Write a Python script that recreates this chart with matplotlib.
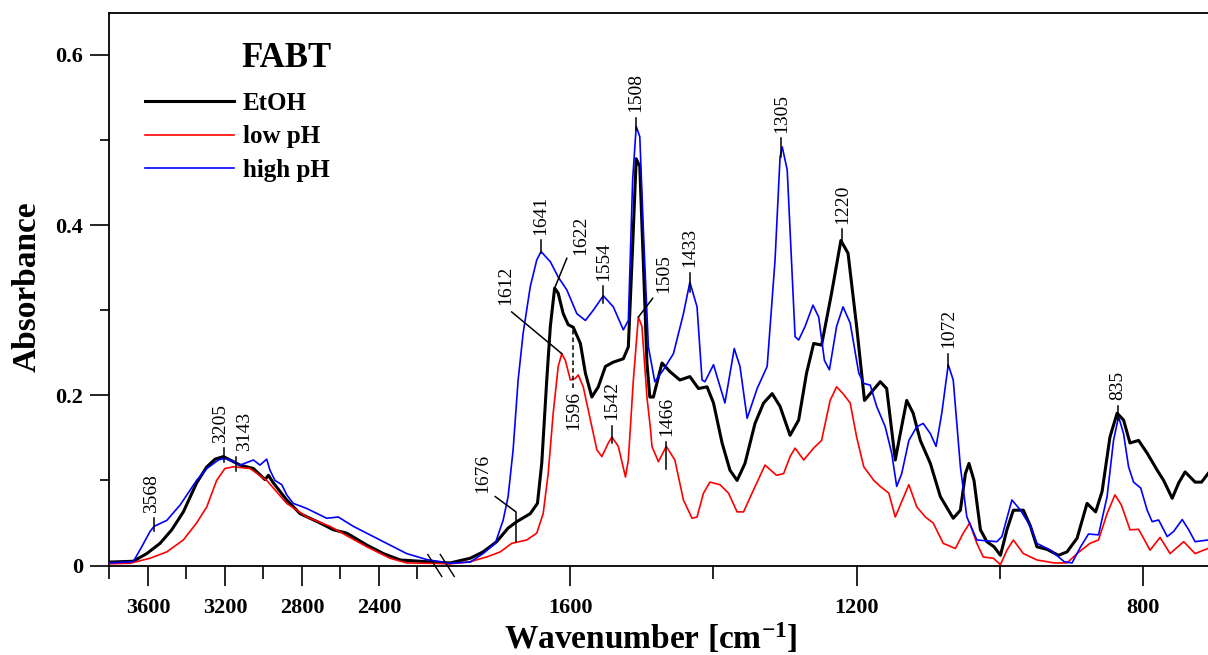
import numpy as np
import matplotlib
matplotlib.use("Agg")
import matplotlib.pyplot as plt
from matplotlib.lines import Line2D

plt.rcParams['font.family'] = ['Liberation Serif', 'DejaVu Serif']
plt.rcParams['mathtext.fontset'] = 'custom'
plt.rcParams['mathtext.rm'] = 'Liberation Serif:bold'
plt.rcParams['mathtext.default'] = 'rm'

# --- spectra (wavenumber cm-1, absorbance) ---
etoh_wn = [3800, 3676, 3606, 3537, 3476, 3416, 3347, 3294, 3251, 3208, 3173, 3121,
           3052, 2992, 2974, 2948, 2879, 2810, 2706, 2637, 2567, 2463, 2377, 2290, 2117,
           1768, 1740, 1722, 1703, 1687, 1675, 1656, 1646, 1640, 1633, 1628, 1622, 1617,
           1610, 1603, 1596, 1586, 1579, 1570, 1561, 1551, 1540, 1526, 1519, 1513, 1508,
           1503, 1498, 1493, 1489, 1484, 1472, 1461, 1447, 1433, 1421, 1409, 1400, 1388,
           1377, 1367, 1356, 1342, 1330, 1318, 1307, 1293, 1281, 1270, 1260, 1249, 1235,
           1222, 1212, 1200, 1189, 1181, 1167, 1158, 1146, 1139, 1130, 1121, 1111, 1097,
           1083, 1065, 1055, 1048, 1043, 1036, 1027, 1018, 1008, 999, 990, 981, 967, 957,
           948, 934, 918, 906, 892, 878, 866, 857, 846, 836, 827, 818, 806, 794, 780, 771,
           759, 750, 741, 727, 718, 709]
etoh_abs = [0.004, 0.005, 0.014, 0.026, 0.042, 0.063, 0.097, 0.116, 0.125, 0.128, 0.124, 0.118,
            0.114, 0.101, 0.106, 0.097, 0.077, 0.061, 0.050, 0.042, 0.038, 0.024, 0.014, 0.0065, 0.004,
            0.003, 0.0085, 0.016, 0.028, 0.044, 0.0515, 0.061, 0.073, 0.120, 0.218, 0.281, 0.326, 0.320,
            0.296, 0.283, 0.280, 0.261, 0.226, 0.198, 0.210, 0.234, 0.239, 0.243, 0.257, 0.375, 0.478,
            0.469, 0.355, 0.238, 0.198, 0.198, 0.238, 0.228, 0.218, 0.222, 0.208, 0.210, 0.191, 0.144,
            0.112, 0.100, 0.120, 0.167, 0.191, 0.202, 0.187, 0.153, 0.171, 0.226, 0.261, 0.259, 0.320,
            0.382, 0.367, 0.281, 0.194, 0.202, 0.216, 0.208, 0.124, 0.155, 0.194, 0.179, 0.147, 0.120,
            0.081, 0.0555, 0.065, 0.108, 0.120, 0.100, 0.042, 0.028, 0.022, 0.012, 0.042, 0.065, 0.065, 0.046,
            0.022, 0.019, 0.012, 0.016, 0.032, 0.073, 0.063, 0.087, 0.151, 0.179, 0.171, 0.144, 0.147, 0.132,
            0.112, 0.100, 0.079, 0.097, 0.110, 0.098, 0.098, 0.108]

low_wn = [3800, 3693, 3589, 3502, 3416, 3347, 3294, 3243, 3200, 3156, 3070, 2983, 2879,
          2775, 2654, 2559, 2463, 2342, 2256, 2117,
          1768, 1740, 1717, 1698, 1682, 1661, 1647, 1638, 1631, 1624, 1617, 1612, 1607, 1600,
          1593, 1589, 1582, 1572, 1563, 1556, 1547, 1542, 1533, 1523, 1519, 1512, 1505, 1500,
          1493, 1488, 1486, 1477, 1466, 1454, 1442, 1430, 1423, 1414, 1405, 1391, 1379, 1367,
          1358, 1344, 1328, 1312, 1302, 1293, 1286, 1274, 1260, 1249, 1237, 1228, 1219, 1209,
          1200, 1190, 1176, 1167, 1155, 1146, 1127, 1116, 1104, 1093, 1079, 1062, 1051, 1042,
          1032, 1023, 1009, 999, 990, 981, 967, 948, 924, 906, 892, 874, 862, 850, 839, 830,
          818, 806, 799, 790, 776, 762, 743, 727, 709]
low_abs = [0.002, 0.0026, 0.0085, 0.016, 0.030, 0.050, 0.069, 0.100, 0.114, 0.116, 0.114, 0.100, 0.073,
           0.057, 0.046, 0.034, 0.022, 0.0085, 0.003, 0.0025,
           0.002, 0.0045, 0.010, 0.016, 0.026, 0.030, 0.038, 0.061, 0.108, 0.179, 0.234, 0.249, 0.241, 0.218,
           0.220, 0.224, 0.210, 0.171, 0.136, 0.128, 0.144, 0.151, 0.140, 0.104, 0.124, 0.218, 0.292, 0.281,
           0.198, 0.160, 0.140, 0.122, 0.140, 0.124, 0.077, 0.0555, 0.057, 0.085, 0.098, 0.095, 0.085, 0.063,
           0.063, 0.089, 0.118, 0.106, 0.108, 0.128, 0.138, 0.124, 0.138, 0.147, 0.194, 0.210, 0.202, 0.191,
           0.151, 0.116, 0.100, 0.093, 0.085, 0.057, 0.095, 0.069, 0.057, 0.050, 0.026, 0.020, 0.038, 0.050,
           0.026, 0.010, 0.0085, 0.001, 0.018, 0.030, 0.014, 0.0065, 0.003, 0.003, 0.014, 0.026, 0.030, 0.061,
           0.083, 0.071, 0.042, 0.0425, 0.032, 0.018, 0.033, 0.014, 0.028, 0.014, 0.020]

high_wn = [3800, 3676, 3632, 3589, 3568, 3502, 3433, 3347, 3294, 3234, 3200, 3156, 3121,
           3087, 3052, 3018, 2983, 2966, 2940, 2905, 2879, 2845, 2775, 2671, 2611, 2533, 2429,
           2359, 2256, 2152,
           1768, 1740, 1722, 1705, 1694, 1687, 1680, 1673, 1666, 1656, 1647, 1641, 1628, 1617,
           1605, 1591, 1579, 1568, 1554, 1540, 1526, 1519, 1513, 1508, 1503, 1498, 1491, 1482,
           1470, 1456, 1442, 1433, 1423, 1416, 1412, 1400, 1384, 1371, 1363, 1353, 1339, 1325,
           1314, 1307, 1304, 1297, 1286, 1281, 1272, 1261, 1253, 1245, 1238, 1228, 1219, 1209,
           1197, 1190, 1181, 1172, 1160, 1151, 1144, 1137, 1127, 1116, 1107, 1097, 1089, 1081,
           1072, 1065, 1055, 1046, 1032, 1004, 997, 983, 971, 957, 948, 929, 910, 899, 887, 876,
           862, 850, 841, 834, 827, 820, 813, 803, 794, 787, 778, 766, 757, 745, 736, 727, 709]
high_abs = [0.003, 0.0045, 0.022, 0.040, 0.046, 0.053, 0.071, 0.100, 0.114, 0.124, 0.126, 0.122, 0.118,
            0.121, 0.124, 0.118, 0.125, 0.112, 0.100, 0.095, 0.083, 0.073, 0.067, 0.0555, 0.057, 0.046, 0.034,
            0.026, 0.014, 0.007,
            0.0026, 0.004, 0.014, 0.026, 0.053, 0.081, 0.136, 0.218, 0.273, 0.328, 0.359, 0.369, 0.357, 0.339,
            0.324, 0.296, 0.288, 0.300, 0.317, 0.304, 0.277, 0.288, 0.453, 0.516, 0.504, 0.394, 0.257, 0.216,
            0.230, 0.249, 0.296, 0.333, 0.304, 0.218, 0.216, 0.236, 0.191, 0.255, 0.234, 0.173, 0.208, 0.234,
            0.359, 0.480, 0.492, 0.465, 0.269, 0.265, 0.281, 0.306, 0.292, 0.241, 0.230, 0.281, 0.304, 0.285,
            0.226, 0.214, 0.212, 0.187, 0.163, 0.132, 0.093, 0.108, 0.147, 0.163, 0.167, 0.155, 0.140, 0.179,
            0.236, 0.218, 0.116, 0.057, 0.030, 0.028, 0.034, 0.077, 0.065, 0.046, 0.026, 0.018, 0.0045, 0.003,
            0.022, 0.037, 0.036, 0.081, 0.147, 0.175, 0.155, 0.116, 0.098, 0.091, 0.065, 0.0515, 0.0535, 0.034,
            0.040, 0.054, 0.042, 0.028, 0.030]

# peak labels: (label, wavenumber, tick bottom, tick top)
peak_ticks = [("3568", 3568, 0.040, 0.0555), ("3205", 3205, 0.122, 0.138),
              ("3143", 3143, 0.111, 0.1275), ("1641", 1641, 0.367, 0.382),
              ("1554", 1554, 0.308, 0.328), ("1542", 1542, 0.1436, 0.1645),
              ("1508", 1508, 0.512, 0.526), ("1466", 1466, 0.114, 0.1455),
              ("1433", 1433, 0.322, 0.344), ("1305", 1305, 0.480, 0.502),
              ("1220", 1220, 0.380, 0.395), ("1072", 1072, 0.2336, 0.249),
              ("835", 835, 0.171, 0.1874)]
# sideways nudge (points) for crowded labels
label_dx = {"3568": -1.5, "3205": -2.5, "3143": 6.0}
# labels with an angled leader: (label, leader path, text anchor)
peak_leaders = [("1676", [(1676, 0.028), (1676, 0.063), (1705, 0.081)], (1723, 0.085)),
                ("1622", [(1622, 0.326), (1605, 0.361)], (1586, 0.365)),
                ("1612", [(1612, 0.249), (1682, 0.298)], (1691, 0.306)),
                ("1505", [(1505, 0.292), (1485, 0.314)], (1469, 0.320))]

# --- broken wavenumber axis: 3800-2110 compressed, 1772-709 expanded ---
W0, B1, B2 = 3800.0, 2110.0, 1772.0
K1, K2, GAP = 0.1925, 0.7155, 12.5
P1 = (W0 - B1) * K1


def _pos(w):
    w = np.asarray(w, dtype=float)
    return np.where(w >= B1, (W0 - w) * K1,
                    np.where(w >= B2, P1 + (B1 - w) / (B1 - B2) * GAP,
                             P1 + GAP + (B2 - w) * K2))


def fwd(w):
    return -_pos(w)


def inv(u):
    p = -np.asarray(u, dtype=float)
    return np.where(p <= P1, W0 - p / K1,
                    np.where(p <= P1 + GAP, B1 - (p - P1) / GAP * (B1 - B2),
                             B2 - (p - P1 - GAP) / K2))


fig = plt.figure(figsize=(12.08, 6.55), dpi=100)
ax = fig.add_axes([0.09056, 0.13664, 0.90944, 0.84305])
ax.set_xscale('function', functions=(fwd, inv))

l1, = ax.plot(etoh_wn, etoh_abs, color='black', lw=2.2, solid_joinstyle='round', zorder=3)
l2, = ax.plot(low_wn, low_abs, color='#ff0000', lw=1.2, solid_joinstyle='round', zorder=3)
l3, = ax.plot(high_wn, high_abs, color='#0000ff', lw=1.2, solid_joinstyle='round', zorder=3)

ax.set_xlim(3800, 709)
ax.set_ylim(0, 0.649)

ax.set_xticks([3600, 3200, 2800, 2400, 1600, 1200, 800])
ax.set_xticklabels(['3600', '3200', '2800', '2400', '1600', '1200', '800'], fontweight='bold')
ax.set_xticks([3800, 3400, 3000, 2600, 2200, 1400, 1000], minor=True)
ax.set_yticks([0, 0.2, 0.4, 0.6])
ax.set_yticklabels(['0', '0.2', '0.4', '0.6'], fontweight='bold')
ax.set_yticks([0.1, 0.3, 0.5], minor=True)

ax.tick_params(axis='both', which='both', direction='out', width=1.2, labelsize=16)
ax.tick_params(axis='x', which='major', length=14.5, pad=9)
ax.tick_params(axis='x', which='minor', length=9)
ax.tick_params(axis='y', which='major', length=14, pad=5)
ax.tick_params(axis='y', which='minor', length=6.7)
ax.spines['right'].set_visible(False)
for s in ('left', 'bottom', 'top'):
    ax.spines[s].set_linewidth(1.3)

# peak labels
for lab, wn, lo, hi in peak_ticks:
    ax.plot([wn, wn], [lo, hi], color='black', lw=1.1, zorder=4)
    ax.annotate(lab, xy=(wn, hi), xytext=(label_dx.get(lab, 0), 4), textcoords='offset points',
                rotation=90, ha='center', va='bottom', fontsize=14)
for lab, path, (tx, ty) in peak_leaders:
    xs, ys = zip(*path)
    ax.plot(xs, ys, color='black', lw=1.1, zorder=4)
    ax.text(tx, ty, lab, rotation=90, ha='center', va='bottom', fontsize=14)
ax.plot([1596, 1596], [0.2086, 0.277], color='black', lw=1.1, ls=(0, (3, 2)), zorder=4)
ax.text(1596, 0.205, '1596', rotation=90, ha='center', va='top', fontsize=14)

ax.legend([l1, l2, l3], ['EtOH', 'low pH', 'high pH'], loc='upper left',
          bbox_to_anchor=(145 / 1208, 1 - 92 / 655), bbox_transform=fig.transFigure,
          frameon=False, prop={'family': 'Liberation Serif', 'weight': 'bold', 'size': 18},
          handlelength=3.57, handletextpad=0.34, labelspacing=0.42,
          borderpad=0, borderaxespad=0)
fig.text(241.7 / 1208, 1 - 66.7 / 655, 'FABT', ha='left', va='baseline',
         fontsize=25, fontweight='bold')

fig.text(27 / 1208, 1 - 287 / 655, 'Absorbance', rotation=90, ha='center', va='center',
         fontsize=24, fontweight='bold')
fig.text(650.5 / 1208, 6 / 655, 'Wavenumber [cm$^{-1}$]', ha='center', va='baseline',
         fontsize=24, fontweight='bold')

# axis break marks
to_fig = fig.transFigure.inverted()
for wb in (B1, B2):
    xd, yd = ax.transData.transform((wb, 0))
    p0 = to_fig.transform((xd - 7, yd + 11))
    p1 = to_fig.transform((xd + 7, yd - 11))
    fig.add_artist(Line2D([p0[0], p1[0]], [p0[1], p1[1]], color='black', lw=1.0))

fig.savefig('out.png', dpi=100)
